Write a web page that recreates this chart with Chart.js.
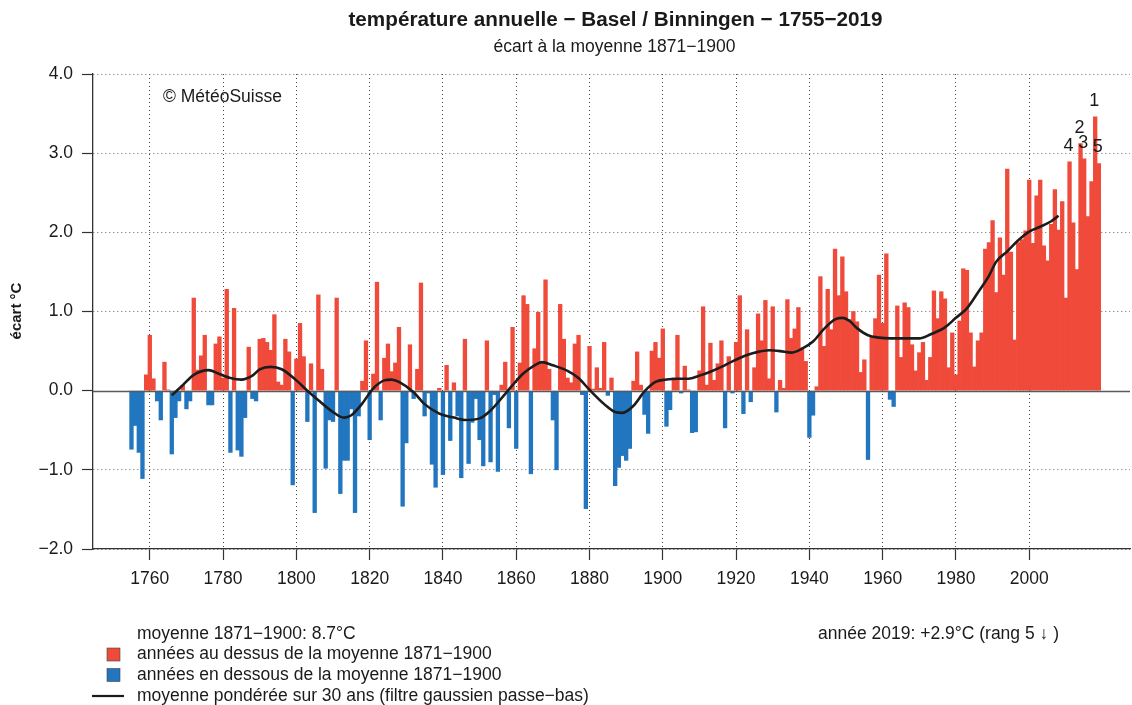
<!DOCTYPE html>
<html>
<head>
<meta charset="utf-8">
<script src="https://cdn.jsdelivr.net/npm/chart.js@4.4.1/dist/chart.umd.min.js"></script>
<style>
  html, body { margin: 0; padding: 0; background: #fff; }
  canvas { display: block; }
</style>
</head>
<body>
<canvas id="c" width="1132" height="705"></canvas>
<script>
// ---------------- data ----------------
const firstYear = 1755;
// annual temperature anomaly vs 1871-1900 mean (°C), 1755..2019
const anomalies = [
  -0.74, -0.44, -0.78, -1.11, 0.20, 0.70, 0.15, -0.13, -0.37, 0.36,   // 1755-1764
   0.01, -0.80, -0.34, -0.13, 0.07, -0.23, -0.13, 1.17, 0.26, 0.44,   // 1765-1774
   0.70, -0.18, -0.18, 0.59, 0.68, 0.16, 1.28, -0.78, 1.04, -0.75,    // 1775-1784
  -0.83, -0.34, 0.55, -0.10, -0.13, 0.65, 0.66, 0.61, 0.51, 0.96,     // 1785-1794
   0.11, 0.07, 0.65, 0.49, -1.19, 0.40, 0.85, 0.43, -0.39, 0.34,      // 1795-1804
  -1.54, 1.21, 0.27, -0.98, -0.37, -0.39, 1.17, -1.30, -0.88, -0.88,  // 1805-1814
  -0.23, -1.54, -0.32, 0.12, 0.63, -0.62, 0.21, 1.37, -0.37, 0.41,    // 1815-1824
   0.59, 0.24, 0.35, 0.80, -1.46, -0.66, 0.58, -0.10, 0.27, 1.36,     // 1825-1834
  -0.32, -0.03, -0.93, -1.22, 0.03, -1.06, 0.32, -0.63, 0.10, -0.32,  // 1835-1844
  -1.10, 0.65, -0.92, -0.40, -0.10, -0.62, -0.95, 0.63, -0.90, -0.05, // 1845-1854
  -1.02, 0.07, 0.36, -0.47, 0.80, -0.73, 0.35, 1.20, 1.09, -1.05,     // 1855-1864
   0.53, 0.99, 0.35, 1.40, 0.27, -0.37, -1.00, 1.09, 0.65, 0.16,      // 1865-1874
   0.10, 0.59, 0.70, -0.05, -1.49, 0.56, 0.02, 0.29, 0.03, 0.61,      // 1875-1884
  -0.06, 0.16, -1.20, -0.97, -0.82, -0.88, -0.73, 0.12, 0.49, 0.07,   // 1885-1894
  -0.30, -0.54, 0.50, 0.61, 0.41, 0.78, -0.45, -0.24, 0.16, 0.70,     // 1895-1904
  -0.03, 0.31, 0.01, -0.53, -0.52, 0.25, 1.06, 0.07, 0.60, 0.13,      // 1905-1914
   0.34, 0.63, -0.47, 0.43, -0.03, 0.61, 1.20, -0.29, 0.77, -0.14,    // 1915-1924
   0.29, 0.97, 0.63, 1.14, 0.15, 1.06, -0.27, 0.13, 0.03, 1.15,       // 1925-1934
   0.66, 0.78, 1.05, 0.54, 0.37, -0.59, -0.31, 0.05, 1.44, 0.56,      // 1935-1944
   1.28, 0.77, 1.79, 1.20, 1.69, 1.25, 0.90, 1.00, 0.87, 0.23,        // 1945-1954
   0.39, -0.87, 0.68, 0.91, 1.46, 0.85, 1.73, -0.11, -0.20, 1.07,     // 1955-1964
   0.42, 1.11, 1.05, 0.58, 0.25, 0.48, 0.61, 0.13, 0.42, 1.26,        // 1965-1974
   0.91, 1.25, 1.16, 0.29, 0.73, 0.20, 0.88, 1.54, 1.52, 0.73,        // 1975-1984
   0.30, 0.63, 0.73, 1.79, 1.87, 2.15, 1.24, 1.93, 1.46, 2.80,        // 1985-1994
   1.75, 0.64, 1.87, 1.91, 2.02, 2.66, 1.86, 2.46, 2.66, 1.83,        // 1995-2004
   1.64, 2.10, 2.54, 2.03, 2.39, 1.17, 2.89, 2.12, 1.53, 3.12,        // 2005-2014
   2.93, 2.20, 2.64, 3.46, 2.87                                       // 2015-2019
];
const years = anomalies.map((_, i) => firstYear + i);

// 30-year gaussian low-pass curve
const curveYears = [1766, 1769, 1772, 1776, 1779, 1782, 1785, 1788, 1790, 1793, 1796, 1800, 1803, 1806,
  1810, 1813, 1815, 1818, 1821, 1824, 1826, 1828, 1832, 1835, 1839, 1843, 1846, 1850, 1853, 1857,
  1859, 1862, 1865, 1867, 1870, 1874, 1877, 1880, 1884, 1887, 1889, 1892, 1895, 1898, 1901, 1904,
  1907, 1910, 1913, 1916, 1919, 1923, 1926, 1929, 1932, 1935, 1938, 1941, 1944, 1947, 1949, 1951,
  1953, 1956, 1959, 1962, 1966, 1970, 1973, 1977, 1980, 1983, 1986, 1989, 1991, 1994, 1997, 2000,
  2003, 2006, 2008];
const curveValues = [-0.06, 0.07, 0.20, 0.26, 0.21, 0.16, 0.14, 0.19, 0.27, 0.30, 0.27, 0.13, 0.00, -0.12,
  -0.27, -0.34, -0.31, -0.16, 0.03, 0.13, 0.14, 0.11, -0.02, -0.17, -0.29, -0.34, -0.37, -0.35, -0.25, -0.04,
  0.07, 0.22, 0.32, 0.36, 0.32, 0.25, 0.16, 0.01, -0.17, -0.27, -0.28, -0.19, -0.01, 0.11, 0.14, 0.15,
  0.15, 0.19, 0.24, 0.30, 0.37, 0.45, 0.49, 0.51, 0.50, 0.48, 0.53, 0.62, 0.78, 0.90, 0.92, 0.88,
  0.79, 0.70, 0.67, 0.66, 0.66, 0.66, 0.71, 0.80, 0.92, 1.04, 1.24, 1.45, 1.63, 1.76, 1.90, 2.01,
  2.07, 2.14, 2.21];

// five warmest years and their rank labels
const rankYears = [2018, 2014, 2015, 2011, 2019];
const rankLabels = ['1', '2', '3', '4', '5'];

// tick labels
const xTickYears = [1760, 1780, 1800, 1820, 1840, 1860, 1880, 1900, 1920, 1940, 1960, 1980, 2000];
const yTickValues = [-2, -1, 0, 1, 2, 3, 4];

// texts
const titleText = 'température annuelle − Basel / Binningen − 1755−2019';
const subtitleText = 'écart à la moyenne 1871−1900';
const yAxisTitle = 'écart °C';
const copyrightText = '© MétéoSuisse';
const legendTexts = [
  'moyenne 1871−1900: 8.7°C',
  'années au dessus de la moyenne 1871−1900',
  'années en dessous de la moyenne 1871−1900',
  'moyenne pondérée sur 30 ans (filtre gaussien passe−bas)'
];
const yearNote = 'année 2019: +2.9°C (rang 5 ↓ )';

// ---------------- style ----------------
const RED = '#ef4a3a';
const BLUE = '#2176bf';
const FONT = '"Liberation Sans", Arial, Helvetica, sans-serif';
const TXT = '#1a1a1a';

function fmtY(v) {
  return (v < 0 ? '\u2212' : '') + Math.abs(v).toFixed(1);
}

const annotations = {
  id: 'annotations',
  beforeDatasetDraw(chart, args) {
    if (args.index !== 1) return;
    const { ctx, chartArea, scales: { y } } = chart;
    const y0 = Math.round(y.getPixelForValue(0)) + 0.5;
    ctx.save();
    ctx.strokeStyle = '#5a5a5a';
    ctx.lineWidth = 1.4;
    ctx.beginPath();
    ctx.moveTo(chartArea.left, y0);
    ctx.lineTo(chartArea.right, y0);
    ctx.stroke();
    ctx.restore();
  },
  afterDraw(chart) {
    const { ctx, scales: { x, y }, chartArea } = chart;
    ctx.save();
    ctx.fillStyle = TXT;
    ctx.textBaseline = 'middle';
    ctx.textAlign = 'center';
    const cx = (chartArea.left + chartArea.right) / 2;
    ctx.font = 'bold 20.7px ' + FONT;
    ctx.fillText(titleText, cx + 4, 20);
    ctx.font = '17.5px ' + FONT;
    ctx.fillText(subtitleText, cx + 3, 47);

    ctx.textAlign = 'left';
    ctx.fillText(copyrightText, 163, 97);

    // rank labels
    ctx.textAlign = 'center';
    ctx.font = '18px ' + FONT;
    rankYears.forEach((yr, i) => {
      const v = anomalies[yr - firstYear];
      ctx.fillText(rankLabels[i], x.getPixelForValue(yr) - 1, y.getPixelForValue(v) - 16);
    });

    // y axis title
    ctx.save();
    ctx.translate(17, 311);
    ctx.rotate(-Math.PI / 2);
    ctx.font = 'bold 15px ' + FONT;
    ctx.fillText(yAxisTitle, 0, 0);
    ctx.restore();

    // legend
    ctx.textAlign = 'left';
    ctx.font = '17.5px ' + FONT;
    const lx = 137;
    const rows = [634, 654.5, 675, 696];
    legendTexts.forEach((t, i) => ctx.fillText(t, lx, rows[i]));
    ctx.fillStyle = RED;
    ctx.fillRect(107, rows[1] - 6.5, 13, 13);
    ctx.fillStyle = BLUE;
    ctx.fillRect(107, rows[2] - 6.5, 13, 13);
    ctx.strokeStyle = '#444';
    ctx.lineWidth = 0.6;
    ctx.strokeRect(107, rows[1] - 6.5, 13, 13);
    ctx.strokeRect(107, rows[2] - 6.5, 13, 13);
    ctx.strokeStyle = TXT;
    ctx.lineWidth = 2.2;
    ctx.beginPath();
    ctx.moveTo(92, rows[3]);
    ctx.lineTo(124, rows[3]);
    ctx.stroke();

    ctx.fillStyle = TXT;
    ctx.fillText(yearNote, 818, 634);
    ctx.restore();
  }
};

new Chart(document.getElementById('c'), {
  type: 'bar',
  data: {
    datasets: [
      {
        type: 'bar',
        data: years.map((yr, i) => ({ x: yr, y: anomalies[i] })),
        backgroundColor: anomalies.map(v => (v >= 0 ? RED : BLUE)),
        borderWidth: 0,
        barPercentage: 1,
        categoryPercentage: 1,
        order: 2
      },
      {
        type: 'line',
        data: curveYears.map((yr, i) => ({ x: yr, y: curveValues[i] })),
        borderColor: '#1c1c1c',
        borderWidth: 2.6,
        pointRadius: 0,
        fill: false,
        cubicInterpolationMode: 'monotone',
        order: 1
      }
    ]
  },
  options: {
    responsive: false,
    animation: false,
    devicePixelRatio: 1,
    layout: { padding: { left: 0, right: 2, top: 74, bottom: 0 } },
    plugins: {
      legend: { display: false },
      tooltip: { enabled: false },
      title: { display: false }
    },
    scales: {
      x: {
        type: 'linear',
        min: 1744.5,
        max: 2027.5,
        offset: false,
        afterBuildTicks: s => { s.ticks = xTickYears.map(v => ({ value: v })); },
        afterFit: s => { s.height = 156; },
        ticks: {
          autoSkip: false,
          maxRotation: 0,
          padding: 9,
          color: TXT,
          font: { family: FONT, size: 17.5 },
          callback: v => String(v)
        },
        grid: {
          offset: false,
          color: '#444',
          lineWidth: 1,
          tickLength: 11,
          tickColor: '#333',
          tickWidth: 1.2,
          tickBorderDash: []
        },
        border: { display: true, color: '#333', width: 1.3, dash: [1, 3] }
      },
      y: {
        min: -2,
        max: 4,
        afterBuildTicks: s => { s.ticks = yTickValues.map(v => ({ value: v })); },
        afterFit: s => { s.width = 93; },
        ticks: {
          padding: 9,
          color: TXT,
          font: { family: FONT, size: 17.5 },
          callback: v => fmtY(v)
        },
        grid: {
          color: ctx => (ctx.tick && ctx.tick.value === 0 ? 'rgba(0,0,0,0)' : '#666'),
          lineWidth: 1,
          tickLength: 11,
          tickColor: '#333',
          tickWidth: 1.2,
          tickBorderDash: []
        },
        border: { display: true, color: '#333', width: 1.3, dash: [1, 3] }
      }
    }
  },
  plugins: [annotations]
});
</script>
</body>
</html>
